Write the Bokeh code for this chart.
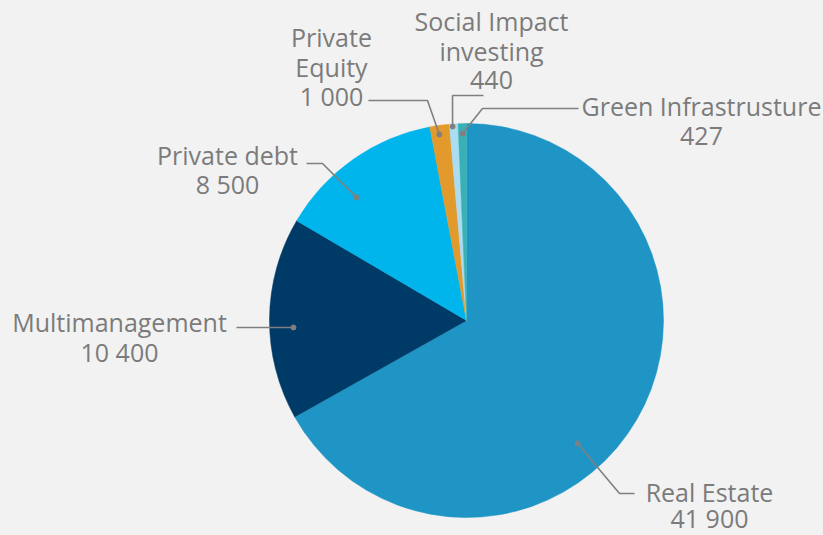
import math
from bokeh.plotting import figure
from bokeh.models import Range1d, ColumnDataSource
from bokeh.core.properties import value
from bokeh.embed import file_html
from bokeh.resources import INLINE

# ---- data ----
categories = ["Real Estate", "Multimanagement", "Private debt", "Private Equity",
              "Social Impact investing", "Green Infrastrusture"]
amounts = [41900, 10400, 8500, 1000, 440, 427]
value_labels = ["41 900", "10 400", "8 500", "1 000", "440", "427"]
label_lines = [["Real Estate"], ["Multimanagement"], ["Private debt"], ["Private", "Equity"],
               ["Social Impact", "investing"], ["Green Infrastrusture"]]
colors = ["#1e95c5", "#003a66", "#00b4ec", "#e29a2c", "#aadcf2", "#39b0b5"]

# ---- layout (reference pixel coords, y measured downward) ----
W, H = 823, 535
CX, CY, R = 466, 320, 197
BG = "#f2f2f2"
TXT = "#7b7b7b"
LINE = "#808080"
FS = 25

# leader: dot (angle deg, radial fraction), then path points, label block center x, first line y, line step
leaders = [
    dict(ang=-47.9, frac=0.841, path=[(619, 493), (634, 493)], lx=709, ly=491, lh=26.5),
    dict(ang=182.3, frac=0.879, path=[(236, 327)], lx=119, ly=321.5, lh=29.5),
    dict(ang=131.8, frac=0.838, path=[(322, 163), (306, 163)], lx=227, ly=154, lh=29.5),
    dict(ang=98.3, frac=0.954, path=[(427, 100), (368, 100)], lx=331, ly=36.5, lh=29.5),
    dict(ang=94.1, frac=0.987, path=[(452, 95), (483, 95)], lx=491, ly=20.5, lh=29.5),
    dict(ang=91.2, frac=0.949, path=[(482, 108), (578, 108)], lx=701, ly=105.5, lh=29.5),
]

def Y(y):
    return H - y

p = figure(width=W, height=H, output_backend="svg", toolbar_location=None,
           x_range=Range1d(0, W), y_range=Range1d(0, H),
           x_axis_location=None, y_axis_location=None, min_border=0,
           background_fill_color=BG, border_fill_color=BG, outline_line_color=None)
p.grid.visible = False

total = float(sum(amounts))
starts, ends = [], []
cum = 0.0
for a in amounts:
    starts.append(math.pi / 2 - 2 * math.pi * cum / total)
    cum += a
    ends.append(math.pi / 2 - 2 * math.pi * cum / total)

src = ColumnDataSource(dict(start=starts, end=ends, color=colors, name=categories))
p.wedge(x=CX, y=Y(CY), radius=R, start_angle="start", end_angle="end", direction="clock",
        fill_color="color", line_color="color", line_width=0.5, source=src)

for i, ld in enumerate(leaders):
    a = math.radians(ld["ang"])
    dx = CX + ld["frac"] * R * math.cos(a)
    dy = CY - ld["frac"] * R * math.sin(a)
    xs = [dx] + [pt[0] for pt in ld["path"]]
    ys = [Y(dy)] + [Y(pt[1]) for pt in ld["path"]]
    p.line(xs, ys, line_color=LINE, line_width=1.6)
    p.scatter([dx], [Y(dy)], size=5, color=LINE)
    lines = label_lines[i] + [value_labels[i]]
    tx = [ld["lx"]] * len(lines)
    ty = [Y(ld["ly"] + k * ld["lh"]) for k in range(len(lines))]
    p.text(tx, ty, text=lines, text_align="center", text_baseline="middle",
           text_font=value("Open Sans"), text_font_size=f"{FS}px", text_color=TXT)

html = file_html(p, INLINE)
html = html.replace("<body>", '<body style="background-color:%s;">' % BG)
open("out.html", "w").write(html)
